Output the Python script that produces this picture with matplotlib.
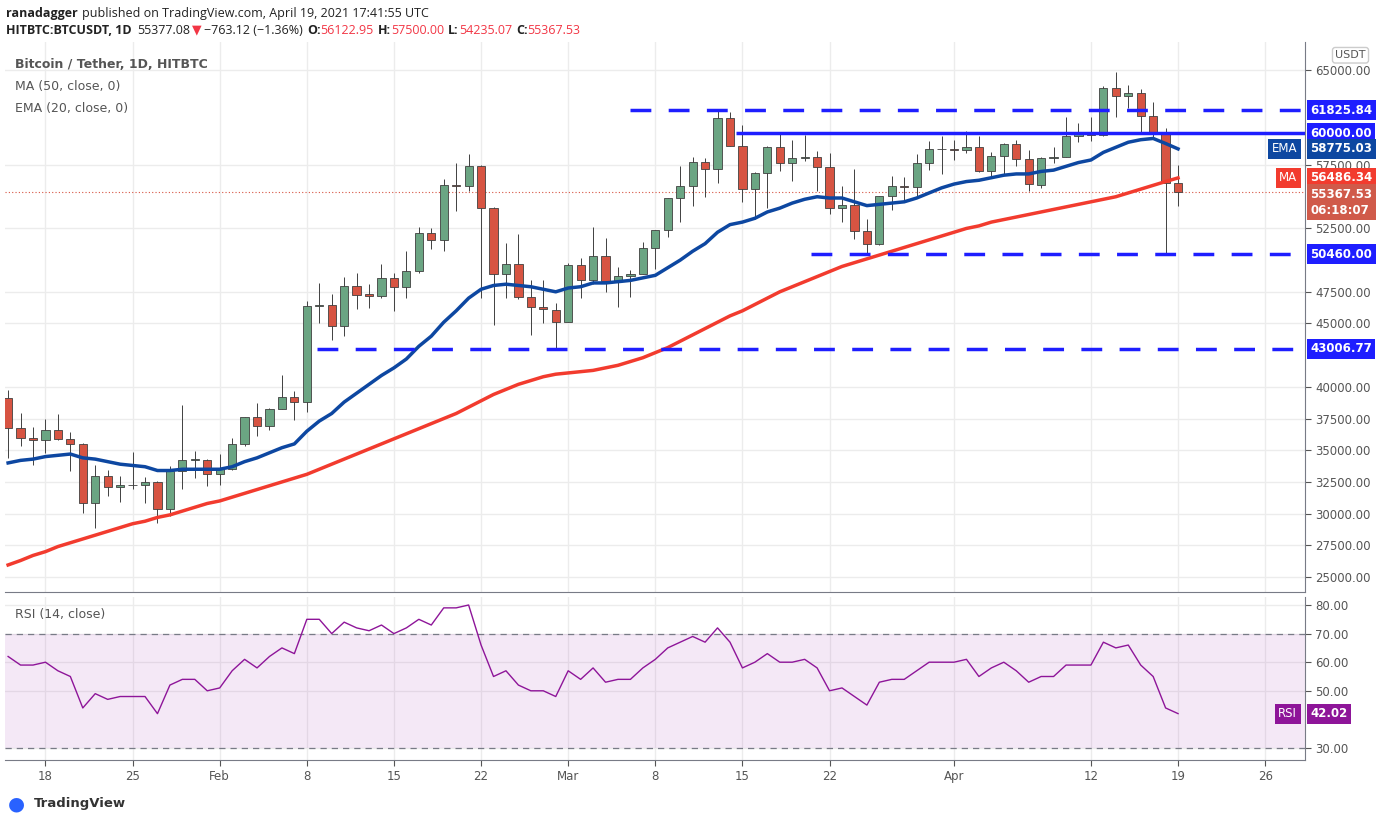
import matplotlib
matplotlib.use("Agg")
import matplotlib.pyplot as plt
from matplotlib.patches import Rectangle
import numpy as np

# daily candles, Jan 15 .. Apr 19 2021
opens = [39145, 36742, 36000, 35824, 36622, 35901, 35468, 30851, 32950, 32078, 32259, 32254, 32464, 30366, 33368, 34246, 34262,
         33092, 33517, 35472, 37620, 36936, 38289, 39181, 38795, 46374, 46420, 44807, 47968, 47298, 47156, 48580, 47911, 49134, 52117,
         51550, 55907, 55841, 57412, 54087, 48891, 49677, 47060, 46276, 46103,
         45134, 49595, 48436, 50350, 48374, 48746, 48882, 50959, 52376, 54874, 55851, 57774, 57221, 61188, 58976, 55605, 56900, 58912,
         57641, 58031, 58101, 57351, 54083, 54342, 52303, 51293, 55026, 55818, 55780, 57635, 58744,
         58739, 58720, 58950, 57051, 58202, 59129, 57991, 55953, 58077, 58142, 59770, 59964, 59834, 63554, 62970, 63159, 61334, 60006, 56122.95]
highs = [39747, 37950, 36852, 37469, 37850, 36415, 35600, 33826, 33456, 32944, 34875, 32921, 32557, 33783, 38531, 34933, 34342,
         34717, 35984, 37662, 38708, 38310, 40955, 39700, 46794, 48200, 47310, 48678, 48985, 48150, 49707, 49010, 50689, 52618, 52530,
         56368, 57700, 58352, 57533, 54183, 51374, 52041, 48424, 48395, 46638,
         49790, 50200, 52640, 51773, 49448, 49200, 51450, 52402, 54895, 57387, 58150, 58081, 61844, 61683, 60633, 56938, 58982, 60098,
         59468, 59880, 58603, 58430, 55830, 57200, 53230, 55073, 56640, 56559, 58405, 59368, 59800,
         59490, 60200, 59791, 58493, 59251, 59495, 58650, 58153, 58894, 61300, 60790, 61300, 63777, 64854, 63800, 63520, 62500, 60413, 57500.00]
lows = [34408, 35357, 33850, 34800, 35844, 33400, 30071, 28850, 31390, 30900, 31910, 30838, 29241, 29842, 31915, 32825, 32171,
        32296, 33418, 35362, 36161, 36570, 38215, 37351, 37988, 45000, 43727, 43994, 46125, 46202, 47014, 46000, 47003, 48947, 50901,
        50710, 53863, 55477, 46988, 44892, 47003, 46936, 44106, 45000, 43000,
        45115, 47047, 48100, 47500, 46300, 47070, 48882, 49274, 51789, 53005, 54272, 54962, 56078, 58966, 54600, 53271, 54123, 57023,
        56270, 57820, 55450, 53650, 53000, 51700, 50427, 51229, 53967, 54691, 54902, 57072, 56769,
        57935, 58427, 56955, 56478, 56789, 57413, 55473, 55700, 57654, 58100, 59289, 59380, 59770, 61301, 62020, 60000, 59581, 50460, 54235.07]
closes = [36769, 36000, 35828, 36631, 35891, 35468, 30850, 32945, 32078, 32259, 32254, 32467, 30366, 33364, 34252, 34262, 33092,
          33526, 35466, 37618, 36936, 38290, 39186, 38795, 46374, 46420, 44807, 47969, 47287, 47153, 48577, 47911, 49133, 52119, 51552,
          55906, 55841, 57408, 54087, 48892, 49676, 47073, 46276, 46106, 45135,
          49587, 48440, 50349, 48374, 48751, 48882, 50971, 52375, 54884, 55851, 57773, 57221, 61188, 58968, 55605, 56900, 58912, 57648,
          58030, 58102, 57351, 54083, 54340, 52303, 51293, 55025, 55817, 55777, 57635, 58746, 58740,
          58720, 58950, 57051, 58202, 59129, 57991, 56000, 58077, 58142, 59769, 59964, 59834, 63554, 62970, 63159, 61334, 60006, 56122, 55367.53]

ema20 = [34000, 34200, 34300, 34500, 34600, 34700, 34400, 34300, 34100, 33900, 33800, 33700, 33400, 33400, 33500, 33500, 33500,
         33500, 33700, 34100, 34400, 34800, 35200, 35500, 36500, 37300, 37900, 38800, 39500, 40200, 40900, 41500, 42200, 43200, 44000,
         45100, 46000, 47000, 47700, 48000, 48100, 48000, 47900, 47700, 47500,
         47800, 47900, 48200, 48200, 48300, 48400, 48600, 48800, 49400, 50000, 50700, 51300, 52200, 52800, 53000, 53300, 53800, 54100,
         54500, 54800, 55000, 54900, 54900, 54600, 54300, 54400, 54500, 54600, 54900, 55300, 55700,
         56000, 56200, 56300, 56500, 56700, 56800, 56800, 57000, 57100, 57400, 57700, 57900, 58500, 58900, 59300, 59500, 59600, 59200, 58775.03]
ma50 = [25950, 26300, 26700, 27000, 27400, 27700, 28000, 28300, 28600, 28900, 29200, 29400, 29700, 29900, 30200, 30500, 30800,
        31000, 31300, 31600, 31900, 32200, 32500, 32800, 33100, 33500, 33900, 34300, 34700, 35100, 35500, 35900, 36300, 36700, 37100,
        37500, 37900, 38400, 38900, 39400, 39800, 40200, 40500, 40800, 41000,
        41100, 41200, 41300, 41500, 41700, 42000, 42300, 42700, 43100, 43600, 44100, 44600, 45100, 45600, 46000, 46500, 47000, 47500,
        47900, 48300, 48700, 49100, 49500, 49800, 50100, 50400, 50700, 51000, 51300, 51600, 51900,
        52200, 52500, 52700, 53000, 53200, 53400, 53600, 53800, 54000, 54200, 54400, 54600, 54800, 55000, 55300, 55600, 55900, 56200, 56486.34]
rsi = [62, 59, 59, 60, 57, 55, 44, 49, 47, 48, 48, 48, 42, 52, 54, 54, 50,
       51, 57, 61, 58, 62, 65, 63, 75, 75, 70, 74, 72, 71, 73, 70, 72, 75, 73, 79, 79, 80, 66, 55, 57, 52, 50, 50, 48,
       57, 54, 58, 53, 54, 54, 58, 61, 65, 67, 69, 67, 72, 67, 58, 60, 63, 60, 60, 61, 58, 50, 51, 48, 45, 53, 54, 54, 57, 60, 60,
       60, 61, 55, 58, 60, 57, 53, 55, 55, 59, 59, 59, 67, 65, 66, 59, 55, 44, 42.02]

tick_pos = [3, 10, 17, 24, 31, 38, 45, 52, 59, 66, 76, 87, 94, 101]
tick_lab = ["18", "25", "Feb", "8", "15", "22", "Mar", "8", "15", "22", "Apr", "12", "19", "26"]
# labels hidden behind the price tags are left out
price_ticks = [25000, 27500, 30000, 32500, 35000, 37500, 40000, 45000, 47500, 52500, 57500, 65000]
rsi_ticks = [30, 50, 60, 70, 80]

# support / resistance levels: (price, start index, style)
levels = [(61825.84, 50, "--"), (60000.00, 58.5, "-"), (50460.00, 64.5, "--"), (43006.77, 24.8, "--")]

GREEN, RED, BLUE = "#6BA583", "#D75442", "#1E1EFF"
FAM = ["Open Sans", "DejaVu Sans"]
W, H = 1376, 823
fig = plt.figure(figsize=(W / 100, H / 100), dpi=100)
fig.patch.set_facecolor("white")


def box(l, t, r, b):
    return [l / W, 1 - b / H, (r - l) / W, (b - t) / H]


ax = fig.add_axes(box(5, 42, 1305, 592))
ar = fig.add_axes(box(5, 597, 1305, 760), sharex=ax)
n = len(closes)
x = np.arange(n)

for a in (ax, ar):
    a.set_xlim(-0.25, 104.2)
    for s in a.spines.values():
        s.set_color("#787B86")
        s.set_linewidth(0.8)
    a.spines["top"].set_visible(False)
    a.spines["left"].set_visible(False)
    a.yaxis.tick_right()
    a.grid(True, color="#ECECEC", linewidth=1)
    a.set_axisbelow(True)
    a.set_xticks(tick_pos)
    a.tick_params(axis="both", colors="#555555", labelsize=8.5, length=4, direction="out")

ax.set_ylim(23816, 67209)
ax.set_yticks(price_ticks)
ax.set_yticklabels([f"{v:.2f}" for v in price_ticks])
ax.tick_params(axis="x", labelbottom=False, length=0)

for i in range(n):
    o, h, l, c = opens[i], highs[i], lows[i], closes[i]
    col = GREEN if c >= o else RED
    ax.vlines(i, l, h, color="#404040", linewidth=0.7, zorder=3)
    ax.add_patch(Rectangle((i - 0.33, min(o, c)), 0.66, max(abs(c - o), 40), facecolor=col,
                           edgecolor="#404040", linewidth=0.6, zorder=4))

ax.plot(x, ema20, color="#0D47A1", linewidth=2.5, zorder=5)
ax.plot(x, ma50, color="#F23B2E", linewidth=2.5, zorder=5)
ax.axhline(closes[-1], color=RED, linestyle=(0, (1, 2)), linewidth=0.8, zorder=2)

for price, start, ls in levels:
    ax.hlines(price, start, 104.2, color=BLUE, linewidth=2.5, linestyles="-" if ls == "-" else (0, (6, 5)), zorder=6)


def tag(a, y, text, bg):
    a.text(1.004, y, text, transform=a.get_yaxis_transform(), va="center", ha="left", fontsize=8.5,
           color="white", fontweight="bold", bbox=dict(boxstyle="square,pad=0.3", facecolor=bg, edgecolor="none"),
           zorder=10, clip_on=False, linespacing=1.3)


def side(a, y, text, bg):
    a.text(0.994, y, text, transform=a.get_yaxis_transform(), ha="right", va="center", fontsize=8.5,
           color="white", bbox=dict(boxstyle="square,pad=0.3", facecolor=bg, edgecolor="none"), zorder=10)


for price, _, _ in levels:
    tag(ax, price, f"{price:.2f}", BLUE)
tag(ax, ema20[-1], f"{ema20[-1]:.2f}", "#0D47A1")
tag(ax, ma50[-1], f"{ma50[-1]:.2f}", "#F23B2E")
tag(ax, 54550, f"{closes[-1]:.2f}\n06:18:07", "#D05A4A")
side(ax, ema20[-1], "EMA", "#0D47A1")
side(ax, ma50[-1], "MA", "#F23B2E")
ax.text(1.035, 0.985, "USDT", transform=ax.transAxes, ha="center", va="top", fontsize=8, color="#555555",
        bbox=dict(boxstyle="round,pad=0.25", facecolor="white", edgecolor="#CCCCCC"))

ax.text(0.008, 0.97, "Bitcoin / Tether, 1D, HITBTC", transform=ax.transAxes, fontsize=9, color="#555555",
        fontweight="bold", va="top")
ax.text(0.008, 0.93, "MA (50, close, 0)", transform=ax.transAxes, fontsize=9, color="#555555", va="top")
ax.text(0.008, 0.89, "EMA (20, close, 0)", transform=ax.transAxes, fontsize=9, color="#555555", va="top")

# RSI panel
ar.set_ylim(25.8, 82.8)
ar.set_yticks(rsi_ticks)
ar.set_yticklabels([f"{v:.2f}" for v in rsi_ticks])
ar.set_xticklabels(tick_lab)
ar.axhspan(30, 70, color="#9C27B0", alpha=0.1, linewidth=0)
ar.axhline(70, color="#787B86", linestyle=(0, (5, 4)), linewidth=0.9)
ar.axhline(30, color="#787B86", linestyle=(0, (5, 4)), linewidth=0.9)
ar.plot(x, rsi, color="#8E1599", linewidth=1)
ar.text(0.008, 0.93, "RSI (14, close)", transform=ar.transAxes, fontsize=9, color="#555555", va="top")
tag(ar, rsi[-1], f"{rsi[-1]:.2f}", "#8E1599")
side(ar, rsi[-1], "RSI", "#8E1599")

# header: pieces placed one after another
fig.canvas.draw()
renderer = fig.canvas.get_renderer()


def line(y, pieces, x0=6):
    px = x0
    for txt, col, bold, gap in pieces:
        t = fig.text(px / W, 1 - y / H, txt, fontsize=9, color=col, fontweight="bold" if bold else "normal",
                     va="center", family=FAM)
        px = t.get_window_extent(renderer).x1 + gap


line(13, [("ranadagger", "#222222", True, 4),
          ("published on TradingView.com, April 19, 2021 17:41:55 UTC", "#222222", False, 0)])
line(30, [("HITBTC:BTCUSDT, 1D", "#222222", True, 6), ("55377.08", "#222222", False, 1),
          ("\u25BC", "#F23645", False, 3), ("\u2212763.12 (\u22121.36%)", "#222222", False, 4),
          ("O:", "#222222", True, 0), ("56122.95", "#F23645", False, 4),
          ("H:", "#222222", True, 0), ("57500.00", "#F23645", False, 4),
          ("L:", "#222222", True, 0), ("54235.07", "#F23645", False, 4),
          ("C:", "#222222", True, 0), ("55367.53", "#F23645", False, 0)])

fig.text(34 / W, 1 - 804 / H, "TradingView", fontsize=9.5, fontweight="bold", color="#333333", va="center")
fig.text(8 / W, 1 - 804 / H, "\u25CF", fontsize=14, color="#2962FF", va="center")

fig.savefig("out.png", dpi=100)
